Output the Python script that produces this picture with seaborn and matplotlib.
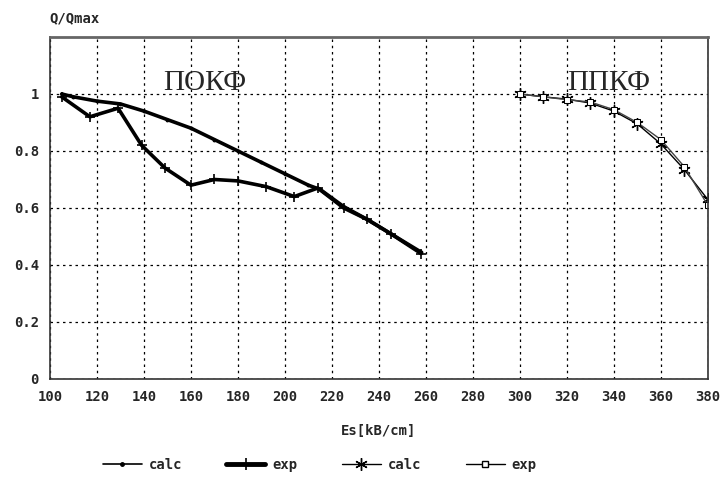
import numpy as np
import pandas as pd
import matplotlib
matplotlib.use("Agg")
import matplotlib.pyplot as plt
from matplotlib.lines import Line2D
import seaborn as sns

# ПОКФ branch
pokf_calc_x = [105, 110, 120, 130, 140, 150, 160, 170, 180, 190, 200, 210, 215, 225, 235, 245, 258]
pokf_calc_y = [1.0, 0.99, 0.975, 0.965, 0.94, 0.91, 0.88, 0.84, 0.80, 0.76, 0.72, 0.68, 0.665, 0.605, 0.56, 0.51, 0.445]
pokf_exp_x = [105, 117, 129, 139, 149, 160, 170, 180, 192, 204, 214, 225, 235, 245, 258]
pokf_exp_y = [0.99, 0.92, 0.95, 0.82, 0.74, 0.68, 0.70, 0.695, 0.675, 0.64, 0.67, 0.60, 0.56, 0.51, 0.44]

# ППКФ branch
ppkf_x = [300, 310, 320, 330, 340, 350, 360, 370, 380]
ppkf_calc_y = [1.0, 0.99, 0.982, 0.968, 0.94, 0.895, 0.825, 0.735, 0.63]
ppkf_exp_y = [1.0, 0.99, 0.98, 0.972, 0.945, 0.90, 0.84, 0.745, 0.61]

x_ticks = list(range(100, 381, 20))
y_ticks = [0, 0.2, 0.4, 0.6, 0.8, 1.0]
y_tick_labels = ["0", "0.2", "0.4", "0.6", "0.8", "1"]

sns.set_style("white")
plt.rcParams["font.family"] = ["DejaVu Sans Mono"]

fig = plt.figure(figsize=(7.2, 4.79), dpi=100)
ax = fig.add_axes([0.0694, 0.2088, 0.9136, 0.714])

sns.lineplot(x=pokf_calc_x, y=pokf_calc_y, ax=ax, color="black", lw=2.6,
             marker="o", markersize=2, mec="black", legend=False)
sns.lineplot(x=pokf_exp_x, y=pokf_exp_y, ax=ax, color="black", lw=2.6,
             marker="+", markersize=7, mew=1.2, mec="black", legend=False)
sns.lineplot(x=ppkf_x, y=ppkf_calc_y, ax=ax, color="black", lw=1.0,
             marker=(6, 2, 0), markersize=9, mew=1.0, mec="black", legend=False)
sns.lineplot(x=ppkf_x, y=ppkf_exp_y, ax=ax, color="#444444", lw=1.0,
             marker="s", markersize=5, mfc="white", mec="black", legend=False)

ax.set_xlim(100, 380)
ax.set_ylim(0, 1.2)
ax.set_xticks(x_ticks)
ax.set_yticks(y_ticks)
ax.set_yticklabels(y_tick_labels)
ax.tick_params(axis="both", labelsize=10, length=0, pad=8)
for lbl in ax.get_xticklabels() + ax.get_yticklabels():
    lbl.set_fontweight("bold")
ax.grid(True, color="black", linestyle=(0, (2, 3)), linewidth=0.9)

for side in ["left", "bottom", "right"]:
    ax.spines[side].set_color("#333333")
    ax.spines[side].set_linewidth(1.2)
ax.spines["top"].set_color("#666666")
ax.spines["top"].set_linewidth(2)

ax.text(166, 1.04, "ПОКФ", family="Liberation Serif", fontsize=21, ha="center", va="center")
ax.text(338, 1.04, "ППКФ", family="Liberation Serif", fontsize=21, ha="center", va="center")

ax.set_xlabel("Es[kB/cm]", fontsize=10, fontweight="bold", labelpad=14)
ax.set_ylabel("")
fig.text(0.069, 0.962, "Q/Qmax", fontsize=10, fontweight="bold", ha="left", va="center")

handles = [
    Line2D([], [], color="black", lw=1.2, marker="o", markersize=2.5),
    Line2D([], [], color="black", lw=3.5, marker="+", markersize=9, mew=1.2),
    Line2D([], [], color="black", lw=1.0, marker=(6, 2, 0), markersize=9, mew=1.0),
    Line2D([], [], color="black", lw=1.0, marker="s", markersize=5, mfc="white"),
]
ax.legend(handles, ["calc", "exp", "calc", "exp"], loc="upper center",
          bbox_to_anchor=(0.41, -0.195), ncol=4, frameon=False,
          prop={"weight": "bold", "size": 10}, handlelength=2.8,
          handletextpad=0.5, columnspacing=3.2)

fig.savefig("out.png", dpi=100)
